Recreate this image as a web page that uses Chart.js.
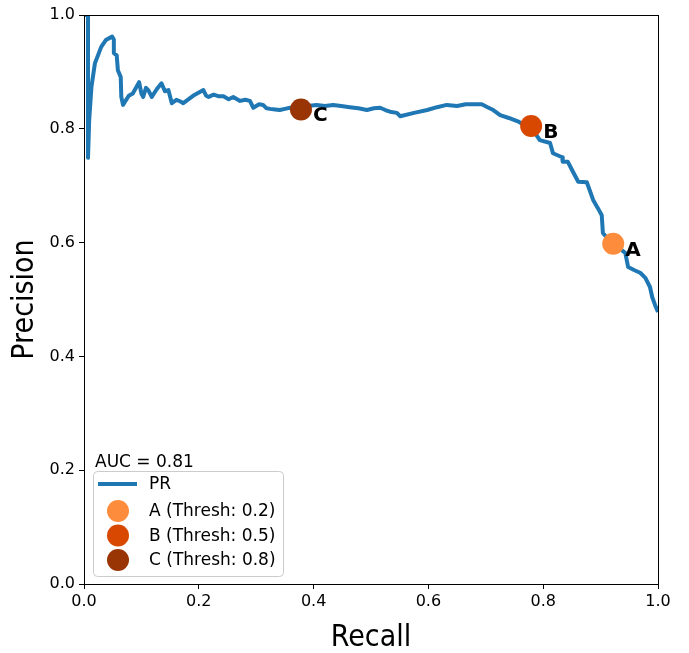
<!DOCTYPE html>
<html>
<head>
<meta charset="utf-8">
<script src="https://cdn.jsdelivr.net/npm/chart.js@4"></script>
<style>
  html, body { margin: 0; padding: 0; background: #fff; }
  #wrap { width: 689px; height: 653px; }
</style>
</head>
<body>
<div id="wrap"><canvas id="prChart" width="689" height="653"></canvas></div>
<script>
// PR curve
const recallVals = [
    0.000, 0.007, 0.007, 0.009, 0.013, 0.019, 0.030, 0.038, 0.049, 0.052,
    0.052, 0.057, 0.059, 0.064, 0.065, 0.068, 0.078, 0.085, 0.096, 0.100,
    0.103, 0.108, 0.112, 0.118, 0.127, 0.135, 0.141, 0.147, 0.153, 0.161,
    0.168, 0.173, 0.190, 0.208, 0.213, 0.217, 0.226, 0.235, 0.243, 0.252,
    0.260, 0.272, 0.281, 0.289, 0.295, 0.305, 0.312, 0.318, 0.324, 0.333,
    0.341, 0.350, 0.359, 0.368, 0.376, 0.390, 0.405, 0.420, 0.434, 0.448,
    0.463, 0.478, 0.493, 0.505, 0.516, 0.525, 0.533, 0.545, 0.551, 0.575,
    0.598, 0.615, 0.632, 0.650, 0.665, 0.678, 0.693, 0.703, 0.713, 0.725,
    0.740, 0.758, 0.770, 0.779, 0.794, 0.812, 0.817, 0.833, 0.834, 0.843,
    0.850, 0.861, 0.876, 0.887, 0.895, 0.902, 0.904, 0.915, 0.922, 0.935,
    0.943, 0.948, 0.960, 0.969, 0.978, 0.986, 0.990, 0.995, 1.000
];
const precisionVals = [
    1.000, 1.000, 0.749, 0.815, 0.874, 0.915, 0.944, 0.956, 0.962, 0.957,
    0.933, 0.929, 0.903, 0.891, 0.856, 0.842, 0.858, 0.862, 0.882, 0.862,
    0.856, 0.872, 0.868, 0.856, 0.870, 0.880, 0.866, 0.868, 0.845, 0.851,
    0.848, 0.845, 0.858, 0.868, 0.858, 0.856, 0.860, 0.857, 0.857, 0.852,
    0.856, 0.849, 0.851, 0.849, 0.837, 0.843, 0.842, 0.836, 0.835, 0.834,
    0.833, 0.835, 0.837, 0.834, 0.834, 0.840, 0.842, 0.840, 0.842, 0.840,
    0.838, 0.836, 0.833, 0.836, 0.837, 0.833, 0.830, 0.828, 0.822, 0.828,
    0.833, 0.838, 0.842, 0.840, 0.843, 0.843, 0.843, 0.838, 0.833, 0.824,
    0.819, 0.812, 0.805, 0.803, 0.780, 0.775, 0.757, 0.750, 0.742, 0.742,
    0.728, 0.707, 0.706, 0.675, 0.661, 0.648, 0.617, 0.604, 0.598, 0.588,
    0.582, 0.557, 0.551, 0.547, 0.538, 0.522, 0.504, 0.490, 0.478
];

// threshold points
const markerNames = ['A', 'B', 'C'];
const markerThresh = [0.2, 0.5, 0.8];
const markerRecall = [0.922, 0.779, 0.378];
const markerPrecision = [0.598, 0.805, 0.834];
const markerColors = ['#fd8d3c', '#d94801', '#993404'];

const tickVals = [0.0, 0.2, 0.4, 0.6, 0.8, 1.0];
const aucText = 'AUC = 0.81';

const tickFont = { family: 'DejaVu Sans', size: 16 };
const titleFamily = "'Liberation Sans Narrow', 'DejaVu Sans Condensed', sans-serif";

const prPoints = recallVals.map((r, i) => ({ x: r, y: precisionVals[i] }));

const datasets = [{
    label: 'PR',
    data: prPoints,
    showLine: true,
    borderColor: '#1f77b4',
    backgroundColor: '#1f77b4',
    borderWidth: 4,
    borderJoinStyle: 'round',
    pointRadius: 0,
    tension: 0,
    order: 2
}];
markerNames.forEach((name, i) => {
    datasets.push({
        label: `${name} (Thresh: ${markerThresh[i]})`,
        data: [{ x: markerRecall[i], y: markerPrecision[i] }],
        pointRadius: 11,
        pointHoverRadius: 11,
        pointBackgroundColor: markerColors[i],
        pointBorderWidth: 0,
        backgroundColor: markerColors[i],
        order: 1
    });
});

// frame, point letters and the legend box
const overlay = {
    id: 'overlay',
    afterDatasetsDraw(chart) {
        const ctx = chart.ctx;
        const a = chart.chartArea;
        const xs = chart.scales.x, ys = chart.scales.y;
        ctx.save();
        ctx.strokeStyle = '#000';
        ctx.lineWidth = 1;
        ctx.strokeRect(a.left + 0.5, a.top + 0.5, a.right - a.left, a.bottom - a.top);

        // letters next to the points
        ctx.fillStyle = '#000';
        ctx.font = 'bold 20px "DejaVu Sans"';
        ctx.textBaseline = 'alphabetic';
        ctx.textAlign = 'left';
        markerNames.forEach((name, i) => {
            const px = xs.getPixelForValue(markerRecall[i]);
            const py = ys.getPixelForValue(markerPrecision[i]);
            ctx.fillText(name, px + 12, py + 12);
        });

        // legend
        const lx = a.left + 9, ly = 471, lw = 190, lh = 105;
        ctx.font = '17px "DejaVu Sans"';
        ctx.fillText(aucText, lx + 2, ly - 4);
        ctx.beginPath();
        ctx.roundRect(lx + 0.5, ly + 0.5, lw, lh, 4);
        ctx.fillStyle = 'rgba(255,255,255,0.8)';
        ctx.fill();
        ctx.strokeStyle = '#cccccc';
        ctx.stroke();

        const rowY = [484, 511, 535.5, 560];
        ctx.textBaseline = 'middle';
        chart.data.datasets.forEach((ds, i) => {
            const y = rowY[i];
            if (i === 0) {
                ctx.strokeStyle = ds.borderColor;
                ctx.lineWidth = 4;
                ctx.beginPath();
                ctx.moveTo(lx + 5, y);
                ctx.lineTo(lx + 44, y);
                ctx.stroke();
            } else {
                ctx.fillStyle = ds.pointBackgroundColor;
                ctx.beginPath();
                ctx.arc(lx + 25, y, 11, 0, Math.PI * 2);
                ctx.fill();
            }
            ctx.fillStyle = '#000';
            ctx.fillText(ds.label, lx + 56, y + 1);
        });
        ctx.restore();
    }
};

const ctx = document.getElementById('prChart').getContext('2d');
new Chart(ctx, {
    type: 'scatter',
    data: { datasets: datasets },
    options: {
        responsive: false,
        animation: false,
        events: [],
        layout: { padding: { top: 15, right: 31, left: 0, bottom: 0 } },
        plugins: {
            legend: { display: false },
            tooltip: { enabled: false }
        },
        scales: {
            x: {
                type: 'linear',
                min: 0, max: 1,
                afterBuildTicks: (s) => { s.ticks = tickVals.map(v => ({ value: v })); },
                afterFit: (s) => { s.height = 69; },
                ticks: {
                    color: '#000',
                    font: tickFont,
                    padding: 3,
                    maxRotation: 0,
                    callback: (v) => v.toFixed(1)
                },
                grid: { drawOnChartArea: false, drawTicks: true, tickLength: 5, color: '#000' },
                border: { display: true, color: '#000', width: 1 },
                title: {
                    display: true,
                    text: 'Recall',
                    color: '#000',
                    font: { family: titleFamily, size: 30, lineHeight: 1.0 },
                    padding: { top: 0, bottom: 0 }
                }
            },
            y: {
                type: 'linear',
                min: 0, max: 1,
                afterBuildTicks: (s) => { s.ticks = tickVals.map(v => ({ value: v })); },
                afterFit: (s) => { s.width = 84; },
                ticks: {
                    color: '#000',
                    font: tickFont,
                    padding: 4,
                    callback: (v) => v.toFixed(1)
                },
                grid: { drawOnChartArea: false, drawTicks: true, tickLength: 5, color: '#000' },
                border: { display: true, color: '#000', width: 1 },
                title: {
                    display: true,
                    text: 'Precision',
                    color: '#000',
                    font: { family: titleFamily, size: 30, lineHeight: 1.0 },
                    padding: { top: 10, bottom: 0 }
                }
            }
        }
    },
    plugins: [overlay]
});
</script>
</body>
</html>
